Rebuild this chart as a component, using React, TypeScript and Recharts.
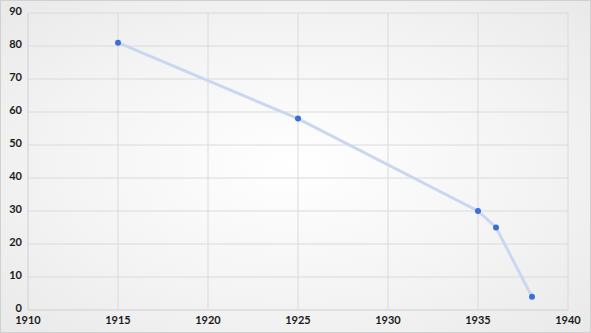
import { LineChart, Line, XAxis, YAxis, CartesianGrid } from 'recharts';

const years = [1915, 1925, 1935, 1936, 1938];
const values = [81, 58, 30, 25, 4];
const xTicks = [1910, 1915, 1920, 1925, 1930, 1935, 1940];
const yTicks = [0, 10, 20, 30, 40, 50, 60, 70, 80, 90];

const data = years.map((year, i) => ({ year, value: values[i] }));

const tickStyle = { fontSize: 11, fontWeight: 700, fill: '#1a1a1a', fontFamily: 'Lato, sans-serif' };

export default function App() {
  return (
    <div
      style={{
        position: 'absolute',
        top: 0,
        left: 0,
        width: 591,
        height: 333,
        boxSizing: 'border-box',
        border: '1px solid #d0d0d0',
        background: 'radial-gradient(ellipse at center, #ffffff 0%, #f3f3f3 60%, #e9e9e9 100%)',
      }}
    >
      <LineChart
        width={591}
        height={333}
        data={data}
        style={{ position: 'absolute', top: -1, left: -1 }}
        margin={{ top: 13, right: 23, bottom: 5, left: 0 }}
      >
        <CartesianGrid stroke="#dadada" strokeWidth={1} />
        <XAxis
          dataKey="year"
          type="number"
          domain={[1910, 1940]}
          ticks={xTicks}
          height={18}
          tickLine={false}
          tickMargin={0}
          axisLine={{ stroke: '#dadada' }}
          tick={tickStyle}
          interval={0}
        />
        <YAxis
          type="number"
          domain={[0, 90]}
          ticks={yTicks}
          width={28}
          tickLine={false}
          tickMargin={0}
          axisLine={{ stroke: '#dadada' }}
          tick={{ ...tickStyle, dy: -2 }}
          interval={0}
        />
        <Line
          type="linear"
          dataKey="value"
          stroke="#c9d8f0"
          strokeWidth={3}
          dot={{ r: 3, fill: '#3a6fd4', stroke: '#3a6fd4', strokeWidth: 0 }}
          activeDot={false}
          isAnimationActive={false}
        />
      </LineChart>
    </div>
  );
}
